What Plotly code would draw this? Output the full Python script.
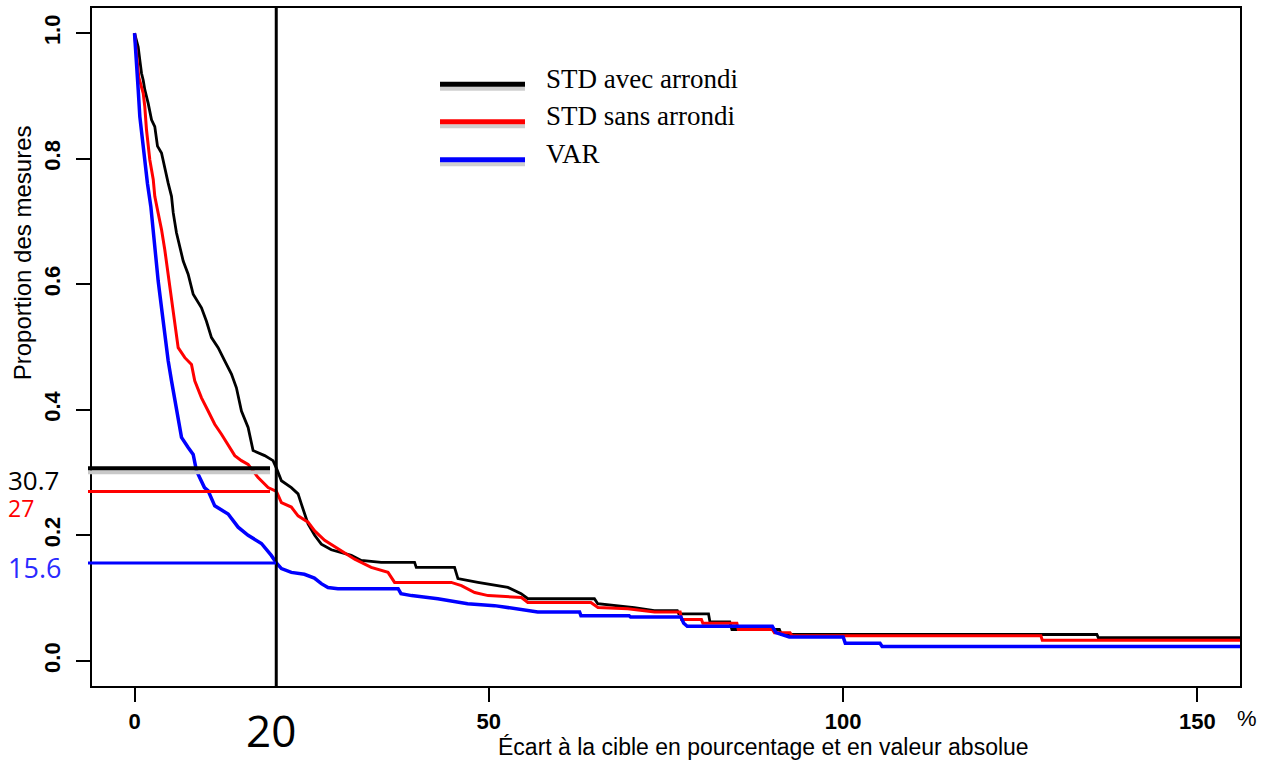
import plotly.graph_objects as go

# Proportion of measures whose absolute deviation from target exceeds x (%)
std_round_x = [0, 0.52, 0.75, 0.99, 1.23, 1.45, 1.93, 2.40, 2.86, 3.24, 3.81, 4.19, 4.75, 5.22,
               5.46, 5.92, 6.63, 6.87, 7.57, 8.28, 9.45, 10.15, 10.86, 11.80, 12.73, 13.68, 14.38,
               15.09, 16.03, 16.73, 18.37, 19.55, 20.02, 20.73, 22.13, 23.08, 23.54, 24.49, 25.42,
               26.36, 27.77, 30.59, 32.0, 34.8, 39.52, 39.76, 45.16, 45.64, 48.46, 50.8, 52.69,
               54.56, 55.51, 64.9, 65.37, 70.53, 73.35, 76.6, 76.8, 81.0, 81.2, 84.0, 84.3, 91.0,
               91.3, 135.8, 136.0, 156.0]
std_round_y = [1.0, 0.978, 0.957, 0.936, 0.925, 0.91, 0.888, 0.862, 0.851, 0.82, 0.809, 0.788,
               0.761, 0.74, 0.714, 0.682, 0.65, 0.637, 0.616, 0.584, 0.5625, 0.541, 0.515, 0.499,
               0.478, 0.457, 0.435, 0.398, 0.372, 0.335, 0.327, 0.319, 0.307, 0.287, 0.276, 0.266,
               0.25, 0.218, 0.2, 0.186, 0.177, 0.168, 0.16, 0.157, 0.157, 0.149, 0.149, 0.131,
               0.125, 0.12, 0.117, 0.107, 0.099, 0.099, 0.091, 0.085, 0.08, 0.08, 0.075, 0.075,
               0.062, 0.062, 0.05, 0.05, 0.042, 0.042, 0.037, 0.037]

std_noround_x = [0, 0.3, 0.6, 1.23, 1.45, 1.69, 2.16, 2.64, 2.86, 3.34, 3.81, 4.27, 4.75, 5.22,
                 5.68, 6.16, 7.1, 8.04, 8.5, 9.45, 10.39, 11.32, 12.27, 13.21, 14.15, 15.09, 16.03,
                 17.44, 18.85, 20.02, 20.73, 22.13, 23.08, 24.49, 25.42, 26.83, 28.71, 31.07, 33.4,
                 35.77, 36.7, 44.7, 46.13, 48.0, 49.9, 54.6, 55.5, 64.4, 65.4, 69.6, 73.4, 77.0,
                 77.2, 80.0, 80.2, 85.0, 85.2, 90.0, 90.3, 92.5, 92.8, 127.9, 128.1, 156.0]
std_noround_y = [1.0, 0.96, 0.93, 0.904, 0.883, 0.846, 0.798, 0.767, 0.74, 0.713, 0.687, 0.655,
                 0.616, 0.578, 0.541, 0.499, 0.483, 0.472, 0.446, 0.419, 0.398, 0.377, 0.361,
                 0.345, 0.327, 0.319, 0.313, 0.292, 0.276, 0.27, 0.252, 0.245, 0.231, 0.221,
                 0.207, 0.192, 0.179, 0.162, 0.149, 0.141, 0.125, 0.125, 0.12, 0.109, 0.104,
                 0.101, 0.093, 0.093, 0.085, 0.083, 0.078, 0.078, 0.066, 0.066, 0.06, 0.06, 0.05,
                 0.05, 0.045, 0.045, 0.04, 0.04, 0.033, 0.033]

var_x = [0, 0.28, 0.52, 0.75, 1.08, 1.45, 1.83, 2.3, 2.64, 2.86, 3.34, 3.81, 4.27, 4.75, 5.22,
         5.68, 6.16, 6.63, 7.57, 8.28, 8.74, 9.87, 10.39, 11.32, 13.21, 14.62, 16.03, 17.91,
         19.3, 20.02, 20.73, 22.13, 23.97, 25.38, 26.36, 27.3, 28.7, 37.2, 37.6, 39.1, 42.8,
         47.0, 50.8, 53.6, 56.9, 62.8, 63.0, 69.8, 70.0, 77.1, 77.5, 78.0, 90.0, 90.5, 92.4,
         100.0, 100.3, 105.2, 105.5, 156.0]
var_y = [1.0, 0.94, 0.91, 0.867, 0.835, 0.793, 0.76, 0.724, 0.687, 0.65, 0.605, 0.5625, 0.52,
         0.478, 0.446, 0.419, 0.388, 0.356, 0.34, 0.329, 0.303, 0.276, 0.271, 0.247, 0.234,
         0.213, 0.2, 0.187, 0.168, 0.156, 0.147, 0.141, 0.138, 0.132, 0.123, 0.117, 0.115,
         0.115, 0.107, 0.104, 0.099, 0.091, 0.088, 0.083, 0.078, 0.078, 0.072, 0.072, 0.07,
         0.07, 0.06, 0.055, 0.055, 0.045, 0.038, 0.038, 0.028, 0.028, 0.023, 0.023]

series_names = ["STD avec arrondi", "STD sans arrondi", "VAR"]
series_colors = ["#000000", "#ff0000", "#0000ff"]
series_widths = [2.8, 3, 3.5]

threshold = 20
threshold_values = [0.307, 0.27, 0.156]
threshold_labels = ["30.7", "27", "15.6"]

x_tickvals = [0, 50, 100, 150]
x_ticktext = ["0", "50", "100", "150"]
y_tickvals = [0.0, 0.2, 0.4, 0.6, 0.8, 1.0]
y_ticktext = ["0.0", "0.2", "0.4", "0.6", "0.8", "1.0"]

W, H = 1268, 762
ML, MR, MT, MB = 92, 28, 6, 76
PW, PH = W - ML - MR, H - MT - MB


def px(x):
    return (x - ML) / PW


def py(y):
    return (H - MB - y) / PH


fig = go.Figure()
for xs, ys, name, color, lw in zip([std_round_x, std_noround_x, var_x],
                                   [std_round_y, std_noround_y, var_y],
                                   series_names, series_colors, series_widths):
    fig.add_trace(go.Scatter(x=xs, y=ys, mode="lines", name=name,
                             line=dict(color=color, width=lw), showlegend=False))

shapes = []
# vertical reference at the threshold
shapes.append(dict(type="line", xref="x", yref="paper", x0=threshold, x1=threshold,
                   y0=0, y1=1, line=dict(color="black", width=3)))
# horizontal marks at the value of each series at the threshold
seg_ends = [px(270), px(270), px(276)]
seg_widths = [4, 3, 3]
for val, col, x1, w in zip(threshold_values, series_colors, seg_ends, seg_widths):
    if col == "#000000":
        shapes.append(dict(type="line", xref="paper", yref="y", x0=px(88), x1=x1,
                           ysizemode="pixel", yanchor=val, y0=-4, y1=-4,
                           line=dict(color="#c8c8c8", width=4)))
    shapes.append(dict(type="line", xref="paper", yref="y", x0=px(88), x1=x1,
                       y0=val, y1=val, line=dict(color=col, width=w)))

# legend: coloured strokes with a light grey shadow
legend_rows = [82.5, 120.2, 158.3]
for row, col in zip(legend_rows, series_colors):
    shapes.append(dict(type="line", xref="paper", yref="paper", x0=px(440), x1=px(525),
                       y0=py(row + 4.5), y1=py(row + 4.5),
                       line=dict(color="#cfcfcf", width=4)))
    shapes.append(dict(type="line", xref="paper", yref="paper", x0=px(440), x1=px(525),
                       y0=py(row), y1=py(row), line=dict(color=col, width=5)))

annotations = []
for row, name in zip(legend_rows, series_names):
    annotations.append(dict(xref="paper", yref="paper", x=px(544), y=py(row - 5.5),
                            text=name, showarrow=False, xanchor="left", yanchor="middle",
                            font=dict(family="Liberation Serif, Times New Roman, serif",
                                      size=27, color="black")))

label_rows = [479, 507, 567]
label_sizes = [26, 23, 27]
for row, lab, col, sz in zip(label_rows, threshold_labels, series_colors, label_sizes):
    annotations.append(dict(xref="paper", yref="paper", x=px(6), y=py(row), text=lab,
                            showarrow=False, xanchor="left", yanchor="middle",
                            font=dict(family="Open Sans, sans-serif", size=sz,
                                      color=col if col != "#0000ff" else "#2a2aff")))

annotations.append(dict(xref="x", yref="paper", x=threshold, y=py(730), text=str(threshold),
                        showarrow=False, xanchor="center", yanchor="middle", xshift=-5,
                        font=dict(family="Open Sans, sans-serif", size=44, color="black")))
annotations.append(dict(xref="paper", yref="paper", x=px(1247), y=py(719), text="%",
                        showarrow=False, xanchor="center", yanchor="middle",
                        font=dict(family="Liberation Sans, Arial, sans-serif", size=22,
                                  color="black")))
annotations.append(dict(xref="paper", yref="paper", x=px(763), y=py(747),
                        text="Écart à la cible en pourcentage et en valeur absolue",
                        showarrow=False, xanchor="center", yanchor="middle",
                        font=dict(family="Liberation Sans, Arial, sans-serif", size=23,
                                  color="black")))
annotations.append(dict(xref="paper", yref="paper", x=px(22), y=py(252),
                        text="Proportion des mesures", textangle=-90,
                        showarrow=False, xanchor="center", yanchor="middle",
                        font=dict(family="Liberation Sans, Arial, sans-serif", size=24,
                                  color="black")))

tick_font = dict(family="Liberation Sans, Arial, sans-serif", size=22, color="black",
                 weight="bold")

fig.update_layout(
    width=W, height=H,
    margin=dict(l=ML, r=MR, t=MT, b=MB, pad=0),
    paper_bgcolor="white", plot_bgcolor="white",
    shapes=shapes, annotations=annotations,
    xaxis=dict(range=[-6, 156], tickvals=x_tickvals, ticktext=x_ticktext,
               showgrid=False, zeroline=False, showline=True, mirror=True,
               linecolor="black", linewidth=1.5, ticks="outside", ticklen=14,
               tickwidth=2, tickcolor="black", tickfont=tick_font,
               ticklabelstandoff=1),
    yaxis=dict(range=[-0.04, 1.04], tickvals=y_tickvals, ticktext=y_ticktext,
               showgrid=False, zeroline=False, showline=True, mirror=True,
               linecolor="black", linewidth=1.5, ticks="outside", ticklen=14,
               tickwidth=2, tickcolor="black", tickfont=tick_font, tickangle=-90,
               ticklabelstandoff=7),
)

fig.write_html("out.html")
